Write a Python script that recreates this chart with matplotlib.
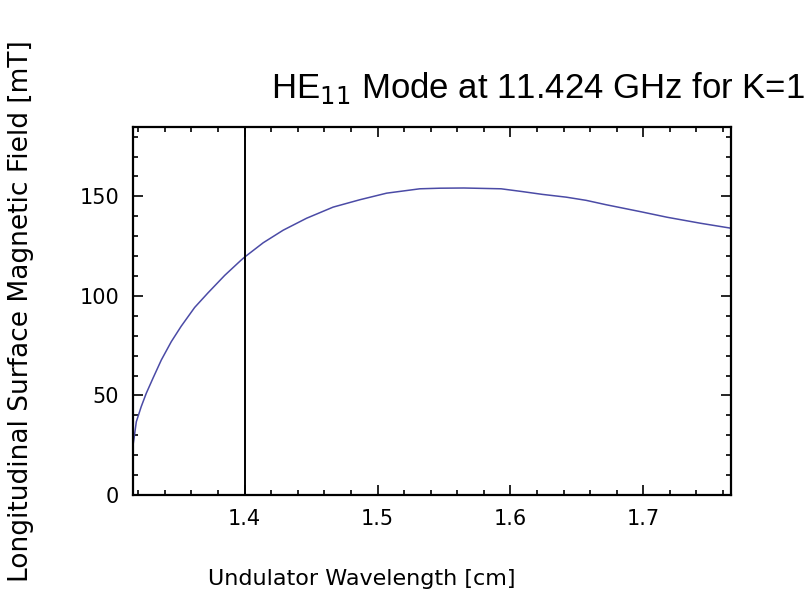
import matplotlib.pyplot as plt
from matplotlib.ticker import MultipleLocator

# undulator wavelength [cm] and longitudinal surface field [mT]
wavelength = [1.316, 1.3168, 1.3185, 1.3222, 1.326, 1.331, 1.3373, 1.3448,
              1.3523, 1.3624, 1.3724, 1.385, 1.3974, 1.400, 1.414, 1.429,
              1.4466, 1.4666, 1.4867, 1.5068, 1.5318, 1.547, 1.565, 1.593,
              1.609, 1.624, 1.642, 1.657, 1.672, 1.698, 1.718, 1.743, 1.766]
field = [25, 28.5, 36.8, 44.4, 51.1, 58.6, 67.8, 77.0,
         84.8, 94.2, 101.5, 110.3, 118.0, 119.5, 126.7, 133.0,
         139.0, 144.6, 148.3, 151.6, 153.8, 154.1, 154.2, 153.8,
         152.4, 151, 149.6, 148, 145.8, 142.3, 139.5, 136.5, 134]
marker_x = 1.4

x_ticks = [1.4, 1.5, 1.6, 1.7]
y_ticks = [0, 50, 100, 150]


def main():
    fig = plt.figure(figsize=(8.08, 6.12), dpi=100)
    ax = fig.add_axes([0.1646, 0.1912, 0.7401, 0.6018])

    ax.plot(wavelength, field, color="#4b4ba6", lw=1.1)
    ax.axvline(marker_x, color="black", lw=1.4)

    ax.set_xlim(1.316, 1.766)
    ax.set_ylim(0, 185)
    ax.set_xticks(x_ticks)
    ax.set_yticks(y_ticks)
    ax.xaxis.set_minor_locator(MultipleLocator(0.02))
    ax.yaxis.set_minor_locator(MultipleLocator(10))
    ax.tick_params(which="both", direction="in", top=True, right=True,
                   width=1.2, labelsize=15, pad=10)
    ax.tick_params(which="major", length=7)
    ax.tick_params(which="minor", length=3.5)
    for s in ax.spines.values():
        s.set_linewidth(1.6)

    ax.set_xlabel("Undulator Wavelength [cm]", fontsize=16)
    ax.set_ylabel("Longitudinal Surface Magnetic Field [mT]", fontsize=19)
    ax.yaxis.set_label_coords(-0.165, 0.5)
    ax.xaxis.set_label_coords(0.383, -0.2)

    fig.text(0.336, 0.84, "HE$_{11}$ Mode at 11.424 GHz for K=1",
             fontsize=25, family="Liberation Sans", ha="left", va="baseline")

    fig.savefig("out.png", dpi=100)


if __name__ == "__main__":
    main()
